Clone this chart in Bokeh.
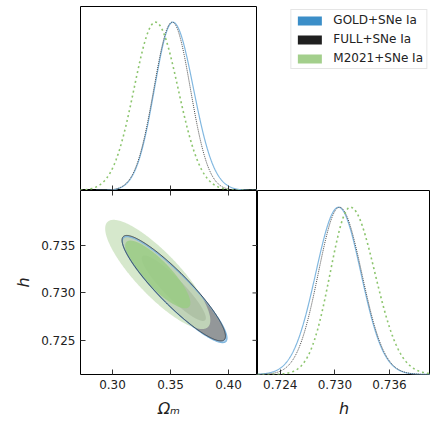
import numpy as np
from bokeh.plotting import figure
from bokeh.models import (LinearAxis, FixedTicker, PrintfTickFormatter, Range1d,
                          Legend, LegendItem)
from bokeh.layouts import column, row
from bokeh.embed import file_html
from bokeh.resources import INLINE

# ---------------- data ----------------
datasets = ["GOLD+SNe Ia", "FULL+SNe Ia", "M2021+SNe Ia"]

# 1D marginals (peak position, lower / upper width)
om_mean = [0.3520, 0.3515, 0.3370]
om_sig_lo = [0.0158, 0.0158, 0.0184]
om_sig_hi = [0.0178, 0.0156, 0.0195]
h_mean = [0.7304, 0.7305, 0.7317]
h_sig_lo = [0.00250, 0.00232, 0.00222]
h_sig_hi = [0.00246, 0.00245, 0.00270]

# 2D contours (centre, widths, correlation)
c2_om = [0.3536, 0.3528, 0.3390]
c2_h = [0.73035, 0.73050, 0.73195]
s2_om = [0.0184, 0.0182, 0.0185]
s2_h = [0.00228, 0.00227, 0.00235]
rho = [-0.915, -0.910, -0.840]
levels = [2.45, 1.52]  # 95%, 68%

om_ticks = [0.30, 0.35, 0.40]
h_ticks = [0.725, 0.730, 0.735]
h_ticks_1d = [0.724, 0.730, 0.736]

OM_RANGE = (0.2724, 0.4250)
H_RANGE = (0.7214, 0.7408)
H_RANGE_1D = (0.7215, 0.7405)
P1_TOP = 1.093
P3_TOP = 1.10

# ---------------- styles ----------------
FONT = "DejaVu Sans"
legend_colors = ["#3b8ec8", "#1f1f1f", "#a3cf8c"]
line_colors = ["#82b8e0", "#4a4a4a", "#8cc56e"]
line_dash = ["solid", "1 1", "2 3"]
line_width = [1.2, 1.0, 1.6]
fill2 = ["#a9cde9", "#939799", "#cce2bf"]
fill1 = ["#3b8ec8", "#3c4043", "#99cd82"]
fill_alpha = [1.0, 1.0, 0.8]
edge_colors = ["#7fb6de", "#3a4450", None]
TICK_COLOR = "#333333"
TICK_LEN = 5

common = dict(output_backend="svg", toolbar_location=None,
              background_fill_color="white", border_fill_color="white",
              x_axis_location=None, y_axis_location=None)


def ellipse(mx, my, sx, sy, r, k, n=361):
    t = np.linspace(0, 2 * np.pi, n)
    u, v = np.cos(t), np.sin(t)
    return mx + k * sx * u, my + k * sy * (r * u + np.sqrt(1 - r * r) * v)


def split_gauss(x, m, slo, shi):
    s = np.where(x < m, slo, shi)
    return np.exp(-0.5 * ((x - m) / s) ** 2)


def style_axis(ax, ticks, fmt):
    ax.ticker = FixedTicker(ticks=ticks)
    ax.formatter = PrintfTickFormatter(format=fmt)
    ax.major_tick_in = TICK_LEN
    ax.major_tick_out = 0
    ax.minor_tick_line_color = None
    ax.major_tick_line_color = TICK_COLOR
    ax.axis_line_color = None
    ax.major_label_text_font = FONT
    ax.major_label_text_color = "#222222"
    ax.major_label_text_font_size = "12px"
    ax.major_label_standoff = 5
    ax.axis_label_text_font = FONT
    ax.axis_label_text_font_size = "16px"
    ax.axis_label_text_color = "#222222"
    return ax


def inner_ticks(p, xs, ys, angle):
    # mirrored inward ticks along a frame edge (screen-length rays)
    p.ray(x=xs, y=ys, length=TICK_LEN, length_units="screen", angle=angle,
          line_color=TICK_COLOR, line_width=1)


def frame(p):
    p.outline_line_color = "black"
    p.outline_line_width = 1
    p.xgrid.visible = False
    p.ygrid.visible = False


# ---------------- top-left: Omega_m marginal ----------------
p1 = figure(width=257, height=190, x_range=Range1d(*OM_RANGE), y_range=Range1d(0, P1_TOP),
            min_border_left=80, min_border_right=0, min_border_top=6, min_border_bottom=0,
            **common)
frame(p1)
xo = np.linspace(OM_RANGE[0], OM_RANGE[1], 500)
for i in range(3):
    p1.line(xo, split_gauss(xo, om_mean[i], om_sig_lo[i], om_sig_hi[i]),
            line_color=line_colors[i], line_dash=line_dash[i], line_width=line_width[i])
inner_ticks(p1, om_ticks, [0.0] * len(om_ticks), np.pi / 2)

# ---------------- top-right: legend ----------------
pl = figure(width=173, height=190, x_range=Range1d(0, 1), y_range=Range1d(0, 1),
            min_border_left=0, min_border_right=0, min_border_top=0, min_border_bottom=0,
            **common)
pl.outline_line_color = None
pl.xgrid.visible = False
pl.ygrid.visible = False
items = []
for name, col in zip(datasets, legend_colors):
    # dummy swatch renderer placed outside the visible range
    r = pl.quad(left=[-3], right=[-2], top=[-2], bottom=[-3], fill_color=col, line_color=None)
    items.append(LegendItem(label=name, renderers=[r]))
leg = Legend(items=items, location="top_right", margin=3, padding=3, spacing=5,
             glyph_width=30, glyph_height=11, label_height=14, label_standoff=9,
             label_text_font=FONT, label_text_font_size="12px", label_text_color="#222222",
             border_line_color="#cccccc", border_line_width=1, background_fill_alpha=0.8)
pl.add_layout(leg)

# ---------------- bottom-left: 2D contours ----------------
p2 = figure(width=257, height=231, x_range=Range1d(*OM_RANGE), y_range=Range1d(*H_RANGE),
            min_border_left=80, min_border_right=0, min_border_top=0, min_border_bottom=47,
            **common)
frame(p2)
bx = style_axis(LinearAxis(axis_label="Ωₘ"), om_ticks, "%.2f")
bx.axis_label_standoff = 7
p2.add_layout(bx, "below")
ly = style_axis(LinearAxis(axis_label="h"), h_ticks, "%.3f")
ly.axis_label_standoff = 5
ly.axis_label_text_font_style = "italic"
p2.add_layout(ly, "left")

for i in range(3):
    for k, fc in zip(levels, [fill2[i], fill1[i]]):
        ex, ey = ellipse(c2_om[i], c2_h[i], s2_om[i], s2_h[i], rho[i], k)
        p2.patch(ex, ey, fill_color=fc, fill_alpha=fill_alpha[i], line_color=None)
for i in range(2):
    ex, ey = ellipse(c2_om[i], c2_h[i], s2_om[i], s2_h[i], rho[i], levels[0])
    p2.line(ex, ey, line_color=edge_colors[i], line_width=1.2 if i == 0 else 1.0)

inner_ticks(p2, om_ticks, [H_RANGE[1]] * len(om_ticks), -np.pi / 2)
inner_ticks(p2, [OM_RANGE[1]] * len(h_ticks), h_ticks, np.pi)

# ---------------- bottom-right: h marginal ----------------
p3 = figure(width=173, height=231, x_range=Range1d(*H_RANGE_1D), y_range=Range1d(0, P3_TOP),
            min_border_left=0, min_border_right=0, min_border_top=0, min_border_bottom=47,
            **common)
frame(p3)
hx = style_axis(LinearAxis(axis_label="h"), h_ticks_1d, "%.3f")
hx.axis_label_standoff = 7
hx.axis_label_text_font_style = "italic"
p3.add_layout(hx, "below")
xh = np.linspace(H_RANGE_1D[0], H_RANGE_1D[1], 500)
for i in range(3):
    p3.line(xh, split_gauss(xh, h_mean[i], h_sig_lo[i], h_sig_hi[i]),
            line_color=line_colors[i], line_dash=line_dash[i], line_width=line_width[i])

layout = column(row(p1, pl), row(p2, p3))
open("out.html", "w").write(file_html(layout, INLINE))
